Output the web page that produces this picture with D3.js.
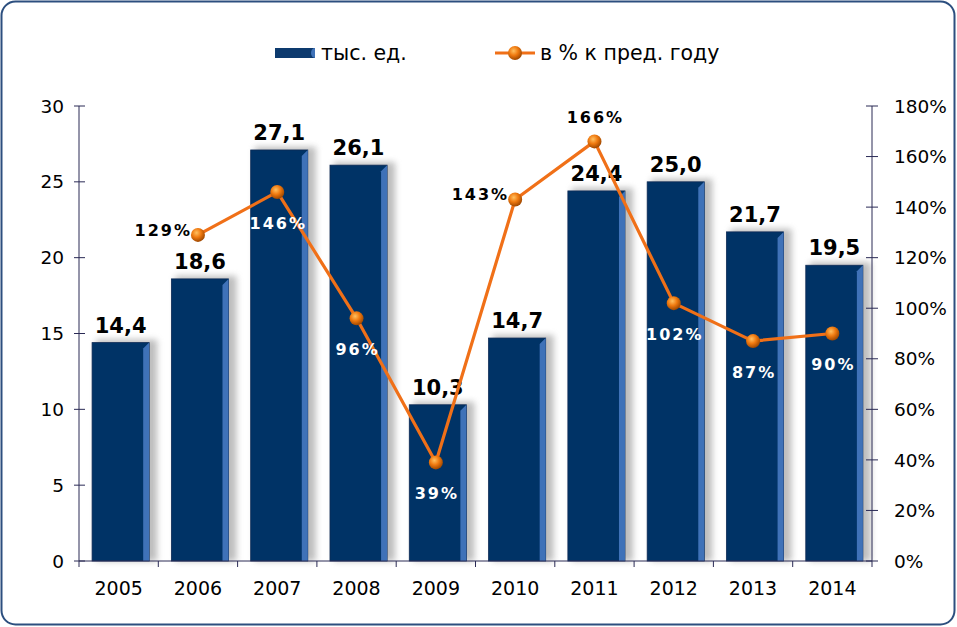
<!DOCTYPE html>
<html>
<head>
<meta charset="utf-8">
<script src="https://cdn.jsdelivr.net/npm/d3@7"></script>
<style>
  body { margin: 0; background: #fff; }
  svg { display: block; font-family: "DejaVu Sans", Verdana, sans-serif; }
</style>
</head>
<body>
<div id="chart"></div>
<script>
// data
const years = ["2005", "2006", "2007", "2008", "2009", "2010", "2011", "2012", "2013", "2014"];
const units = [14.4, 18.6, 27.1, 26.1, 10.3, 14.7, 24.4, 25.0, 21.7, 19.5];
const pctYears = ["2006", "2007", "2008", "2009", "2010", "2011", "2012", "2013", "2014"];
const pct = [129, 146, 96, 39, 143, 166, 102, 87, 90];
// where each % label sits relative to its point
const pctPos = ["left", "below", "below", "below", "left", "above", "below", "below", "below"];
const leftTicks = [0, 5, 10, 15, 20, 25, 30];
const rightTicks = [0, 20, 40, 60, 80, 100, 120, 140, 160, 180];

const W = 957, H = 627;
const margin = { top: 106, right: 85, bottom: 66, left: 79 };
const width = W - margin.left - margin.right,
      height = H - margin.top - margin.bottom;

const svg = d3.select("#chart").append("svg").attr("width", W).attr("height", H);
const defs = svg.append("defs");

const ball = defs.append("radialGradient").attr("id", "ball").attr("cx", "40%").attr("cy", "35%").attr("r", "65%");
ball.append("stop").attr("offset", "0%").attr("stop-color", "#ffc060");
ball.append("stop").attr("offset", "50%").attr("stop-color", "#f07a10");
ball.append("stop").attr("offset", "100%").attr("stop-color", "#a04800");

const blur = defs.append("filter").attr("id", "soft").attr("x", "-20%").attr("y", "-20%").attr("width", "150%").attr("height", "150%");
blur.append("feGaussianBlur").attr("stdDeviation", 3);

// frame
svg.append("rect").attr("x", 1.5).attr("y", 1.5).attr("width", W - 4).attr("height", H - 4)
  .attr("rx", 14).attr("fill", "#fff").attr("stroke", "#2c4f7f").attr("stroke-width", 2);

const g = svg.append("g").attr("transform", `translate(${margin.left},${margin.top})`);

const xb = d3.scaleBand().domain(years).range([0, width]);
const barX = d => xb(d) + xb.step() * 0.165, barW = xb.step() * 0.72;
const y = d3.scaleLinear().domain([0, 30]).range([height, 0]);
const y2 = d3.scaleLinear().domain([0, 180]).range([height, 0]);

// bar shadows
g.selectAll(".shadow").data(units).enter().append("rect")
  .attr("x", (d, i) => barX(years[i]) + 4).attr("y", d => y(d) - 3)
  .attr("width", barW + 4).attr("height", d => height - y(d) + 3)
  .attr("fill", "#888").attr("opacity", 0.55).attr("filter", "url(#soft)");

// bars
const bars = g.selectAll(".bar").data(units).enter().append("g");
bars.append("rect")
  .attr("x", (d, i) => barX(years[i])).attr("y", d => y(d))
  .attr("width", barW).attr("height", d => height - y(d))
  .attr("fill", "#003366").attr("stroke", "#0d2a55").attr("stroke-width", 0.8);
bars.append("path")
  .attr("d", (d, i) => {
    const r = barX(years[i]) + barW, t = y(d);
    return `M${r - 6},${t + 6}L${r},${t}L${r},${height}L${r - 6},${height}Z`;
  })
  .attr("fill", "#3f72b8");

// bar labels
g.selectAll(".val").data(units).enter().append("text")
  .attr("x", (d, i) => barX(years[i]) + barW / 2).attr("y", d => y(d) - 10)
  .attr("text-anchor", "middle").attr("font-size", 21).attr("font-weight", "bold").attr("fill", "#000")
  .text(d => d.toFixed(1).replace(".", ","));

// axes
const axisCol = "#2a2a55";
g.append("line").attr("x1", 0).attr("x2", 0).attr("y1", 0).attr("y2", height).attr("stroke", axisCol);
g.append("line").attr("x1", width).attr("x2", width).attr("y1", 0).attr("y2", height).attr("stroke", axisCol);
g.append("line").attr("x1", 0).attr("x2", width).attr("y1", height).attr("y2", height).attr("stroke", axisCol);

g.selectAll(".lt").data(leftTicks).enter().append("line")
  .attr("x1", -5).attr("x2", 6).attr("y1", d => y(d)).attr("y2", d => y(d)).attr("stroke", axisCol);
g.selectAll(".ll").data(leftTicks).enter().append("text")
  .attr("x", -15).attr("y", d => y(d)).attr("dy", "0.36em").attr("text-anchor", "end")
  .attr("font-size", 18.5).attr("fill", "#000").text(d => d);

g.selectAll(".rt").data(rightTicks).enter().append("line")
  .attr("x1", width - 6).attr("x2", width + 6).attr("y1", d => y2(d)).attr("y2", d => y2(d)).attr("stroke", axisCol);
g.selectAll(".rl").data(rightTicks).enter().append("text")
  .attr("x", width + 22).attr("y", d => y2(d)).attr("dy", "0.36em").attr("text-anchor", "start")
  .attr("font-size", 18.5).attr("fill", "#000").text(d => d + "%");

g.selectAll(".bt").data(years).enter().append("line")
  .attr("x1", (d, i) => xb.step() * i).attr("x2", (d, i) => xb.step() * i)
  .attr("y1", height).attr("y2", height + 6).attr("stroke", axisCol);
g.append("line").attr("x1", width).attr("x2", width).attr("y1", height).attr("y2", height + 6).attr("stroke", axisCol);
g.selectAll(".bl").data(years).enter().append("text")
  .attr("x", d => xb(d) + xb.bandwidth() / 2).attr("y", height + 34)
  .attr("text-anchor", "middle").attr("font-size", 19).attr("fill", "#000").text(d => d);

// line
const px = d => xb(d) + xb.bandwidth() / 2;
const line = d3.line().x((d, i) => px(pctYears[i])).y(d => y2(d));
g.append("path").datum(pct).attr("d", line).attr("fill", "none")
  .attr("stroke", "#f07018").attr("stroke-width", 3.2).attr("stroke-linejoin", "round");
g.selectAll(".dot").data(pct).enter().append("circle")
  .attr("cx", (d, i) => px(pctYears[i])).attr("cy", d => y2(d)).attr("r", 7)
  .attr("fill", "url(#ball)");

g.selectAll(".pl").data(pct).enter().append("text")
  .attr("x", (d, i) => pctPos[i] === "left" ? px(pctYears[i]) - 6 : px(pctYears[i]) + 1)
  .attr("y", (d, i) => pctPos[i] === "left" ? y2(d) - 5 : pctPos[i] === "above" ? y2(d) - 24 : y2(d) + 31)
  .attr("dy", "0.35em")
  .attr("text-anchor", (d, i) => pctPos[i] === "left" ? "end" : "middle")
  .attr("font-size", 16).attr("font-weight", "bold").attr("letter-spacing", 2)
  .attr("fill", (d, i) => pctPos[i] === "below" ? "#fff" : "#000")
  .text(d => d + "%");

// legend
const leg = svg.append("g").attr("transform", "translate(0,53)");
leg.append("rect").attr("x", 275).attr("y", -5).attr("width", 40).attr("height", 10).attr("fill", "#0d3a6e");
leg.append("path").attr("d", "M315,-5 A4,5 0 0 0 315,5 Z").attr("fill", "#3f72b8");
leg.append("text").attr("x", 321).attr("y", 0).attr("dy", "0.36em").attr("font-size", 20.5).text("тыс. ед.");
leg.append("line").attr("x1", 495).attr("x2", 535).attr("y1", 0).attr("y2", 0).attr("stroke", "#f07018").attr("stroke-width", 3);
leg.append("circle").attr("cx", 515).attr("cy", 0).attr("r", 7).attr("fill", "url(#ball)");
leg.append("text").attr("x", 540).attr("y", 0).attr("dy", "0.36em").attr("font-size", 20.5).text("в % к пред. году");
</script>
</body>
</html>
